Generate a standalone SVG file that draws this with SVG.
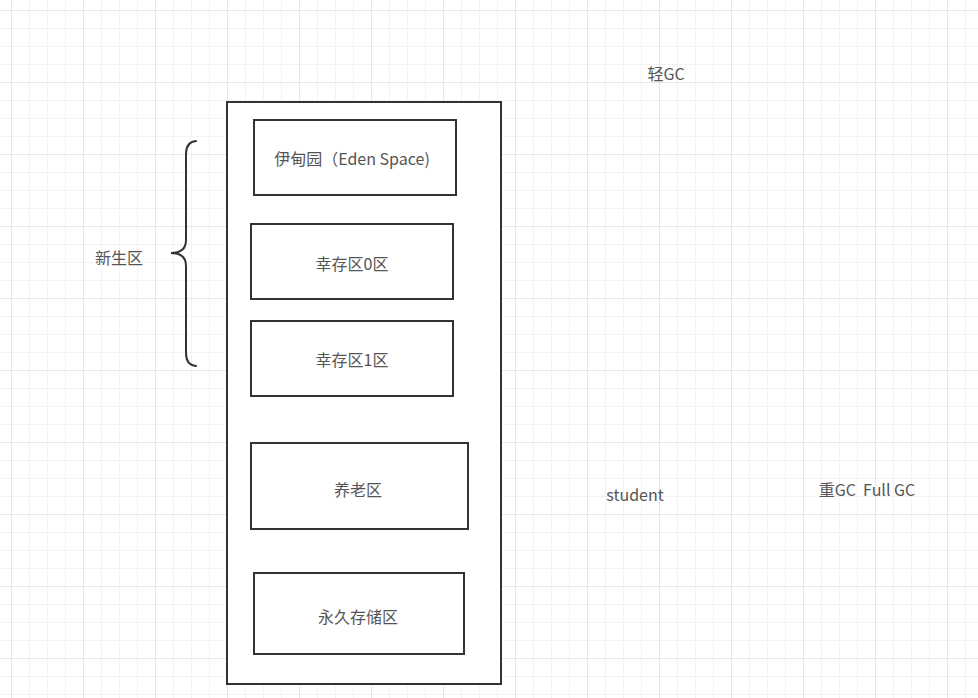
<svg xmlns="http://www.w3.org/2000/svg" width="978" height="698" viewBox="0 0 978 698">
<defs>
<pattern id="minor" x="11" y="10" width="18" height="18" patternUnits="userSpaceOnUse">
<path d="M0 0H18M0 0V18" fill="none" stroke="#efefef" stroke-width="1.5"/>
</pattern>
<pattern id="major" x="11" y="10" width="72" height="72" patternUnits="userSpaceOnUse">
<path d="M0 0H72M0 0V72" fill="none" stroke="#e4e4e4" stroke-width="1.5"/>
</pattern>
<style>
.box{fill:#fff;stroke:#333;stroke-width:2}
.inner{fill:none;stroke:#333;stroke-width:2}
.t{font-family:"Noto Sans CJK SC","Noto Sans",sans-serif;font-size:16px;fill:#555;text-anchor:middle;dominant-baseline:central;white-space:pre}
.brace{fill:none;stroke:#333;stroke-width:2;stroke-linecap:round}
</style>
</defs>
<rect width="978" height="698" fill="#fff"/>
<rect width="978" height="698" fill="url(#minor)"/>
<rect width="978" height="698" fill="url(#major)"/>

<g id="heap">
<rect class="box" x="227" y="102" width="274" height="582"/>
</g>
<g id="eden">
<rect class="inner" x="254" y="120" width="202" height="75"/>
<text class="t" x="352" y="158">伊甸园（Eden Space)</text>
</g>
<g id="survivor0">
<rect class="inner" x="251" y="224" width="202" height="75"/>
<text class="t" x="352" y="263">幸存区0区</text>
</g>
<g id="survivor1">
<rect class="inner" x="251" y="321" width="202" height="75"/>
<text class="t" x="352" y="359">幸存区1区</text>
</g>
<g id="old">
<rect class="inner" x="251" y="443" width="217" height="86"/>
<text class="t" x="358" y="489">养老区</text>
</g>
<g id="perm">
<rect class="inner" x="254" y="573" width="210" height="81"/>
<text class="t" x="358" y="616">永久存储区</text>
</g>
<g id="young-brace">
<path class="brace" d="M196 141 Q186 142 186 154 V240 Q186 253 171 253 Q186 253 186 266 V353 Q186 365 196 366"/>
<text class="t" x="119" y="257">新生区</text>
</g>
<g id="labels">
<text class="t" x="666" y="73">轻GC</text>
<text class="t" x="635" y="494">student</text>
<text class="t" x="867" y="489" xml:space="preserve">重GC  Full GC</text>
</g>
<g id="connectors"></g>
</svg>
